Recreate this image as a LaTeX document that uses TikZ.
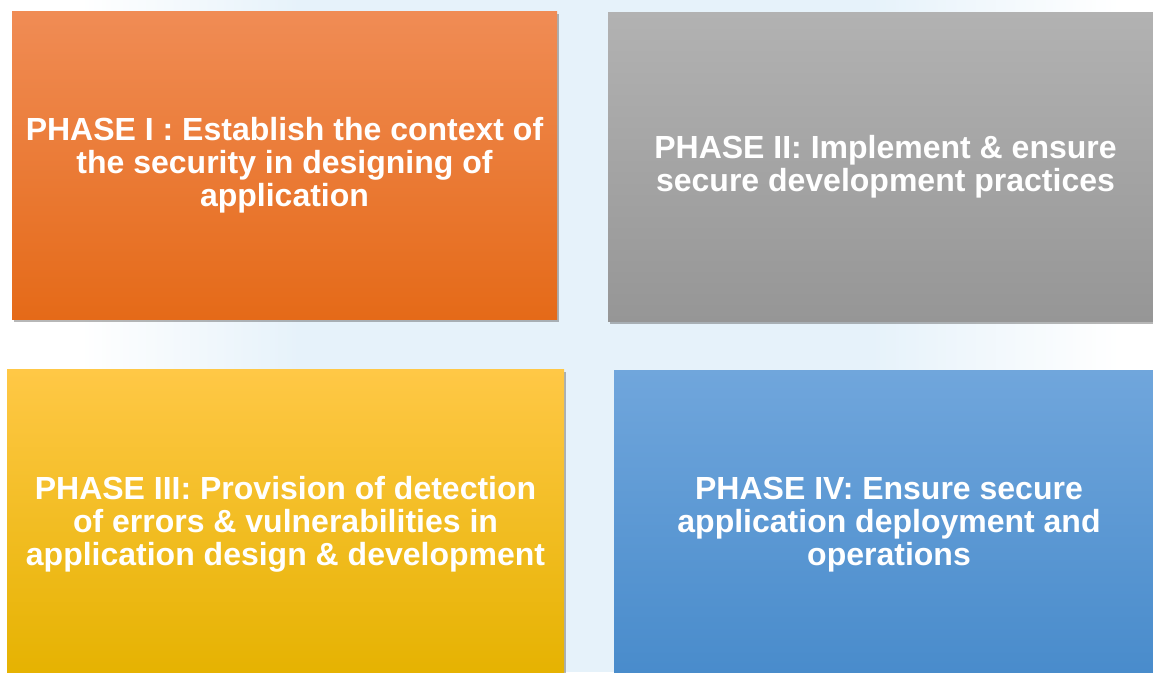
\documentclass[tikz,border=0pt]{standalone}
\usepackage{fontspec}
\setmainfont{Liberation Sans}
\usetikzlibrary{shadows}
\definecolor{orTop}{RGB}{240,140,85}
\definecolor{orBot}{RGB}{229,106,24}
\definecolor{grTop}{RGB}{178,178,178}
\definecolor{grBot}{RGB}{150,150,150}
\definecolor{yeTop}{RGB}{255,200,70}
\definecolor{yeMid}{RGB}{255,198,0}
\definecolor{yeBot}{RGB}{229,178,0}
\definecolor{blTop}{RGB}{112,166,220}
\definecolor{blBot}{RGB}{72,139,203}
\definecolor{wmark}{RGB}{230,242,250}
\tikzset{
  phase/.style={rectangle, inner sep=0pt, text=white, align=center,
    font=\fontsize{32}{33}\selectfont\bfseries,
    drop shadow={shadow xshift=2pt, shadow yshift=-3pt, opacity=0.4, fill=black!70}},
}
\begin{document}
\begin{tikzpicture}[x=1pt,y=-1pt]
\useasboundingbox[fill=white] (0,0) rectangle (1153,672);
% faint watermark background
\shade[left color=white, right color=wmark] (80,0) rectangle (300,672);
\fill[wmark] (300,0) rectangle (870,672);
\shade[left color=wmark, right color=white] (870,0) rectangle (1120,672);
% boxes
\node[phase, minimum width=545, minimum height=308, top color=orTop, bottom color=orBot] (p1) at (284.5,165)
  {PHASE I : Establish the context of\\the security in designing of\\application};
\node[phase, minimum width=555, minimum height=309, top color=grTop, bottom color=grBot] (p2) at (885.5,166.5)
  {PHASE II: Implement \& ensure\\secure development practices};
\node[phase, minimum width=557, minimum height=310, top color=yeTop, middle color=yeMid, bottom color=yeBot] (p3) at (285.5,524)
  {PHASE III: Provision of detection\\of errors \& vulnerabilities in\\application design \& development};
\node[phase, minimum width=550, minimum height=310, top color=blTop, bottom color=blBot] (p4) at (889,525)
  {PHASE IV: Ensure secure\\application deployment and\\operations};
\end{tikzpicture}
\end{document}
